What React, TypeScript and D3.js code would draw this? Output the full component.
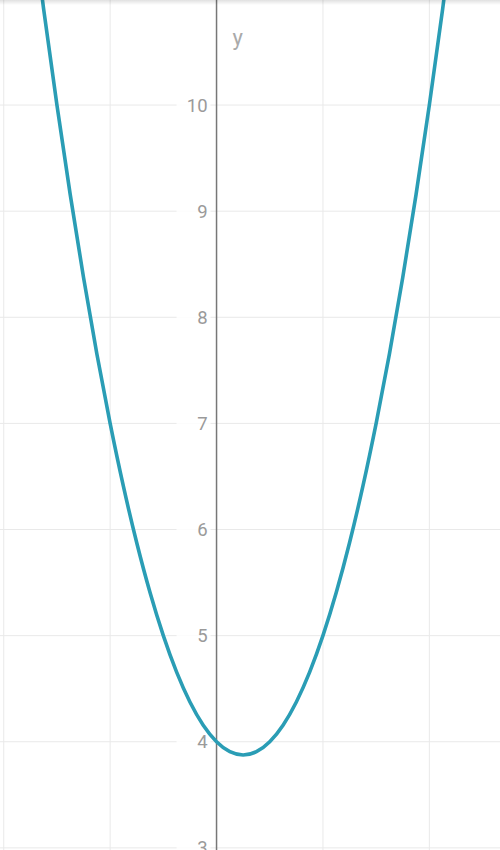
import * as d3 from "d3";

// values
const xs = [
  -1.75, -1.625, -1.5, -1.375, -1.25, -1.125, -1, -0.875, -0.75, -0.625, -0.5, -0.375, -0.25, -0.125, 0,
  0.125, 0.25, 0.375, 0.5, 0.625, 0.75, 0.875, 1, 1.125, 1.25, 1.375, 1.5, 1.625, 1.75, 1.875, 2, 2.125, 2.25,
];
const ys = [
  11.875, 10.906, 10, 9.156, 8.375, 7.656, 7, 6.406, 5.875, 5.406, 5, 4.656, 4.375, 4.156, 4,
  3.906, 3.875, 3.906, 4, 4.156, 4.375, 4.656, 5, 5.406, 5.875, 6.406, 7, 7.656, 8.375, 9.156, 10, 10.906, 11.875,
];
const yTicks = [3, 4, 5, 6, 7, 8, 9, 10];
const xGrid = [-2, -1, 1, 2];

const W = 500;
const H = 850;

export default function App() {
  const x = d3.scaleLinear().domain([-2.035, 2.664]).range([0, W]);
  const y = d3.scaleLinear().domain([10.99, 2.98]).range([0, H]);

  const pts = xs.map((v, i) => [v, ys[i]] as [number, number]);
  const line = d3
    .line<[number, number]>()
    .x((d) => x(d[0]))
    .y((d) => y(d[1]))
    .curve(d3.curveMonotoneX);

  return (
    <svg
      width={W}
      height={H}
      style={{ position: "fixed", left: 0, top: 0, background: "#fff" }}
      fontFamily="Roboto, sans-serif"
    >
      <defs>
        <linearGradient id="shade" x1="0" y1="0" x2="0" y2="1">
          <stop offset="0" stopColor="#000" stopOpacity={0.12} />
          <stop offset="1" stopColor="#000" stopOpacity={0} />
        </linearGradient>
        <clipPath id="plot">
          <rect width={W} height={H} />
        </clipPath>
      </defs>

      {/* grid */}
      {xGrid.map((v) => (
        <line key={"gx" + v} x1={x(v)} x2={x(v)} y1={0} y2={H} stroke="#e9e9e9" strokeWidth={1} />
      ))}
      {yTicks.map((v) => (
        <line key={"gy" + v} x1={0} x2={W} y1={y(v)} y2={y(v)} stroke="#e9e9e9" strokeWidth={1} />
      ))}

      {/* y axis */}
      <line x1={x(0)} x2={x(0)} y1={0} y2={H} stroke="#777" strokeWidth={1.5} />
      {yTicks.map((v) => (
        <g key={"t" + v}>
          <rect x={x(0) - 40} y={y(v) - 12} width={34} height={24} fill="#fff" opacity={0.85} />
          <text x={x(0) - 9} y={y(v) + 6.5} textAnchor="end" fontSize={18.5} fill="#9a9a9a">
            {v}
          </text>
        </g>
      ))}
      <text x={x(0) + 16} y={45} fontSize={22} fill="#aaa">
        y
      </text>

      {/* curve */}
      <path
        d={line(pts) ?? ""}
        fill="none"
        stroke="#2a9db5"
        strokeWidth={3.6}
        strokeLinejoin="round"
        clipPath="url(#plot)"
      />

      <rect x={0} y={0} width={W} height={5} fill="url(#shade)" />
    </svg>
  );
}
